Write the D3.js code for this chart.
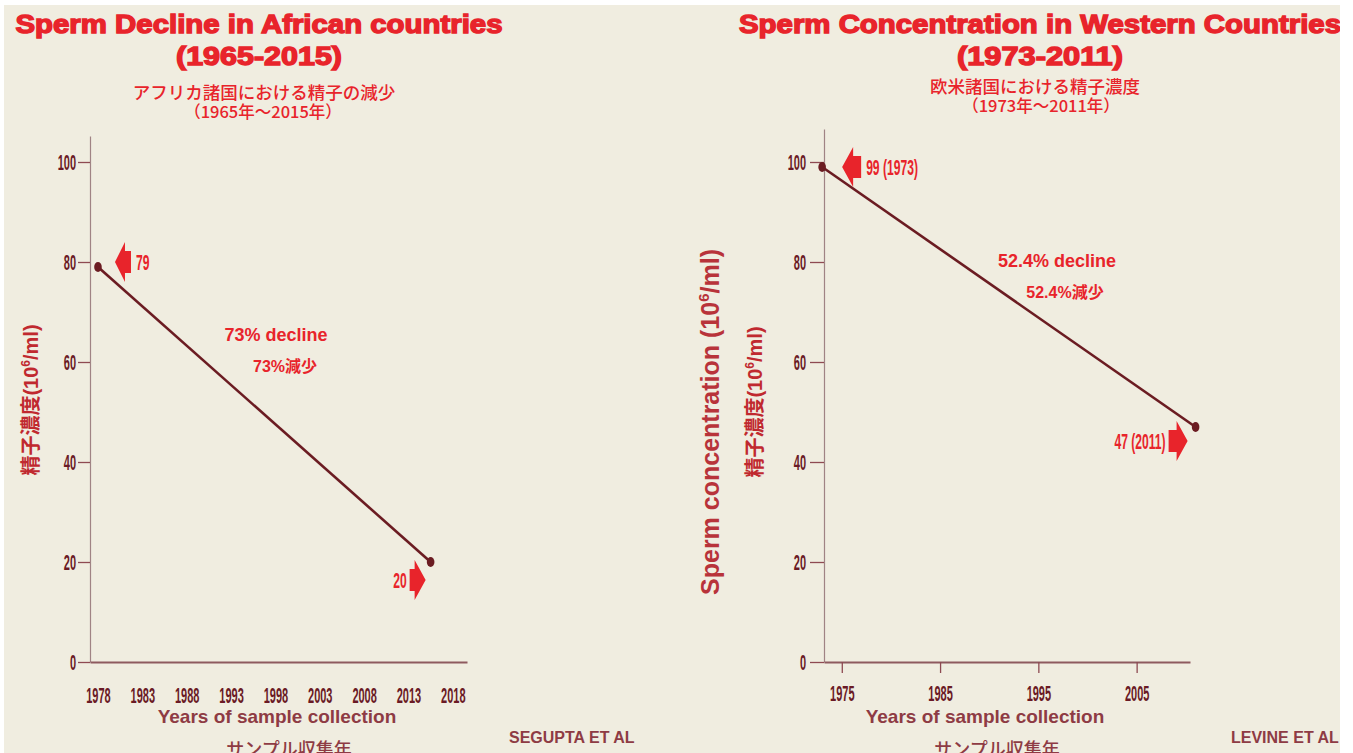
<!DOCTYPE html>
<html>
<head>
<meta charset="utf-8">
<script src="https://cdn.jsdelivr.net/npm/d3@7"></script>
<style>
    body { margin: 0; background: #fff; }
    svg { display: block; }
</style>
</head>
<body>
<svg id="chart" width="1353" height="753"></svg>
<script>
// ---- data ----
// African countries (Segupta et al)
const afYears = [1978, 2015.5];
const afValues = [79, 20];
const afLabels = ["79", "20"];
const afTicks = [1978, 1983, 1988, 1993, 1998, 2003, 2008, 2013, 2018];

// Western countries (Levine et al)
const weYears = [1973, 2011];
const weValues = [99, 47];
const weLabels = ["99 (1973)", "47 (2011)"];
const weTicks = [1975, 1985, 1995, 2005];

const yTicks = [0, 20, 40, 60, 80, 100];

const RED = "#e8242b";
const DARK = "#6b1c22";
const AXIS_TXT = "#6a1a25";
const MUTED = "#8e3b44";

const svg = d3.select("#chart");
svg.append("rect").attr("x", 4).attr("y", 5).attr("width", 1336).attr("height", 748).attr("fill", "#f0ede0");

// condensed look for the numeric labels
function squeeze(sel, sx) {
    sel.each(function() {
        let t = d3.select(this);
        let x = +t.attr("x") || 0, y = +t.attr("y") || 0;
        t.attr("x", 0).attr("y", 0)
            .attr("transform", `translate(${x},${y}) scale(${sx},1)`);
    });
}

// arrow shape: dir -1 points left, +1 points right
function arrow(g, tipX, tipY, dir, head, body, hh, bh) {
    let b = tipX - dir * head, e = b - dir * body;
    let pts = [[tipX, tipY], [b, tipY - hh], [b, tipY - bh], [e, tipY - bh],
               [e, tipY + bh], [b, tipY + bh], [b, tipY + hh]];
    g.append("path").attr("d", d3.line()(pts) + "Z").attr("fill", RED);
}

function drawPanel(o) {
    let g = svg.append("g");
    let x = d3.scaleLinear().domain(o.xDomain).range(o.xRange);
    let y = d3.scaleLinear().domain([0, o.yTop]).range([662, 662 - 5 * o.yTop]);

    // y axis
    let ya = g.append("g").attr("transform", `translate(${o.xRange[0]},0)`)
        .call(d3.axisLeft(y).tickValues(yTicks).tickSize(o.yTickSize).tickPadding(o.yPad).tickSizeOuter(0));
    ya.select(".domain").attr("stroke", "#a08384").attr("stroke-width", 1.2);
    ya.selectAll(".tick line").attr("stroke", "#8e4a52").attr("stroke-width", 1.3);
    ya.selectAll(".tick text").attr("fill", AXIS_TXT).attr("font-family", "Liberation Sans, Arial")
        .attr("font-weight", "bold").attr("font-size", 22).call(squeeze, 0.5);

    // x axis
    let xa = g.append("g").attr("transform", "translate(0,662)")
        .call(d3.axisBottom(x).tickValues(o.xTicks).tickFormat(d3.format("d"))
            .tickSize(o.xTickSize).tickPadding(o.xPad).tickSizeOuter(0));
    xa.select(".domain").attr("stroke", "#8e5a5f").attr("stroke-width", 2);
    xa.selectAll(".tick line").attr("stroke", "#8e4a52").attr("stroke-width", 1.3);
    xa.selectAll(".tick text").attr("fill", AXIS_TXT).attr("font-family", "Liberation Sans, Arial")
        .attr("font-weight", "bold").attr("font-size", 22).call(squeeze, 0.5);

    // trend line with end dots
    let pts = o.years.map((d, i) => [x(d), y(o.values[i])]);
    g.append("path").attr("d", d3.line()(pts)).attr("stroke", DARK)
        .attr("stroke-width", 2.6).attr("fill", "none");
    g.selectAll("ellipse.pt").data(pts).enter().append("ellipse").attr("class", "pt")
        .attr("cx", d => d[0]).attr("cy", d => d[1]).attr("rx", 3.8).attr("ry", 5).attr("fill", DARK);

    // value callouts
    o.callouts.forEach((c, i) => {
        let tipX = pts[i][0] + c.dx, tipY = pts[i][1] + c.dy;
        arrow(g, tipX, tipY, c.dir, c.head, c.body, 20, 11);
        let tx = c.dir < 0 ? tipX + c.head + c.body + 5 : tipX - c.head - c.body - 3;
        g.append("text").attr("text-anchor", c.dir < 0 ? "start" : "end")
            .attr("fill", RED).attr("font-family", "Liberation Sans, Arial").attr("font-weight", "bold")
            .attr("font-size", 22)
            .attr("transform", `translate(${tx},${tipY + 8}) scale(0.55,1)`)
            .text(o.labels[i]);
    });

    // decline annotation
    g.append("text").attr("x", o.decl[0]).attr("y", o.decl[1]).attr("text-anchor", "middle")
        .attr("fill", RED).attr("font-family", "Liberation Sans, Arial").attr("font-weight", "bold")
        .attr("font-size", 18).text(o.declText);
    g.append("text").attr("x", o.declJ[0]).attr("y", o.declJ[1]).attr("text-anchor", "middle")
        .attr("fill", RED).attr("font-family", "Liberation Sans, Noto Sans CJK JP").attr("font-weight", "bold")
        .attr("font-size", 16).text(o.declTextJ);

    // titles (heavy face imitated with stroke + stretched length)
    o.title.forEach((t, i) => {
        g.append("text").attr("x", o.tx).attr("y", [33, 65][i]).attr("text-anchor", "middle")
            .attr("fill", RED).attr("stroke", RED).attr("stroke-width", 1.4)
            .attr("font-family", "Liberation Sans, Arial").attr("font-weight", "bold")
            .attr("font-size", 26).attr("textLength", o.titleLen[i])
            .attr("lengthAdjust", "spacingAndGlyphs").text(t);
    });
    o.sub.forEach((t, i) => {
        g.append("text").attr("x", o.subX[i]).attr("y", o.subY[i]).attr("text-anchor", "middle")
            .attr("fill", RED).attr("font-family", "Noto Sans CJK JP").attr("font-weight", 500)
            .attr("font-size", [17.5, 16.5][i]).text(t);
    });

    // axis titles
    g.append("text").attr("x", o.bx).attr("y", 723).attr("text-anchor", "middle")
        .attr("fill", MUTED).attr("font-family", "Liberation Sans, Arial").attr("font-weight", "bold")
        .attr("font-size", 19).text("Years of sample collection");
    g.append("text").attr("x", o.bx + 12).attr("y", 756).attr("text-anchor", "middle")
        .attr("fill", MUTED).attr("font-family", "Noto Sans CJK JP").attr("font-weight", 500)
        .attr("font-size", 18).text("サンプル収集年");
    g.append("text").attr("x", o.credit[0]).attr("y", 743)
        .attr("fill", MUTED).attr("font-family", "Liberation Sans, Arial").attr("font-weight", "bold")
        .attr("font-size", 16).text(o.credit[1]);

    o.yLabels.forEach(l => {
        let t = g.append("text").attr("text-anchor", "middle")
            .attr("transform", `translate(${l.x},${l.y}) rotate(-90)`)
            .attr("fill", l.color).attr("font-family", "Liberation Sans, Noto Sans CJK JP")
            .attr("font-weight", "bold").attr("font-size", l.size);
        t.append("tspan").text(l.pre);
        t.append("tspan").attr("font-size", l.size * 0.6).attr("dy", -l.size * 0.4).text("6");
        t.append("tspan").attr("dy", l.size * 0.4).text("/ml)");
    });
}

drawPanel({
    xDomain: [1977.1, 2019.6], xRange: [90, 467], yTop: 105.2,
    xTicks: afTicks, xTickSize: 0, xPad: 25, yTickSize: 12, yPad: 2,
    years: afYears, values: afValues, labels: afLabels,
    callouts: [{dx: 17, dy: -5, dir: -1, head: 10, body: 6},
               {dx: -5, dy: 18, dir: 1, head: 11, body: 5}],
    decl: [276, 341], declText: "73% decline",
    declJ: [285, 372], declTextJ: "73%減少",
    tx: 259, title: ["Sperm Decline in African countries", "(1965-2015)"], titleLen: [487, 166],
    sub: ["アフリカ諸国における精子の減少", "（1965年～2015年）"], subX: [264, 263], subY: [99, 118],
    bx: 277, credit: [509, "SEGUPTA ET AL"],
    yLabels: [{x: 38, y: 400, size: 20, color: "#c0292f", pre: "精子濃度(10"}]
});

drawPanel({
    xDomain: [1973.19, 2010.43], xRange: [824, 1190], yTop: 106.6,
    xTicks: weTicks, xTickSize: 11, xPad: 12, yTickSize: 14, yPad: 4,
    years: weYears, values: weValues, labels: weLabels,
    callouts: [{dx: 20, dy: 0, dir: -1, head: 11, body: 8},
               {dx: -8, dy: 14, dir: 1, head: 11, body: 8}],
    decl: [1057, 267], declText: "52.4% decline",
    declJ: [1065, 298], declTextJ: "52.4%減少",
    tx: 1040, title: ["Sperm Concentration in Western Countries", "(1973-2011)"], titleLen: [602, 166],
    sub: ["欧米諸国における精子濃度", "（1973年～2011年）"], subX: [1035, 1041], subY: [93, 112],
    bx: 985, credit: [1231, "LEVINE ET AL"],
    yLabels: [{x: 719, y: 422, size: 25, color: "#b8333a", pre: "Sperm concentration (10"},
              {x: 762, y: 402, size: 20, color: "#c0292f", pre: "精子濃度(10"}]
});

// white margin on the right like the scan
svg.append("rect").attr("x", 1340).attr("y", 0).attr("width", 13).attr("height", 753).attr("fill", "#fff");
</script>
</body>
</html>
